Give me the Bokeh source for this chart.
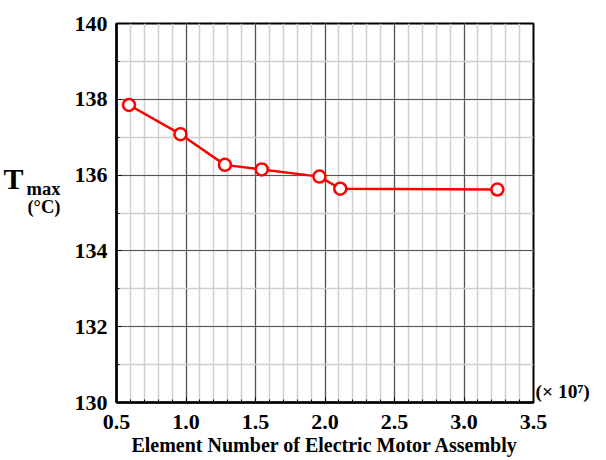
from bokeh.plotting import figure
from bokeh.models import (SingleIntervalTicker, PrintfTickFormatter, Range1d,
                          LinearAxis, FixedTicker)
from bokeh.embed import file_html
from bokeh.resources import INLINE

# Data (x in units of 10^7 elements, y = max temperature in °C)
element_number = [0.59, 0.96, 1.28, 1.545, 1.96, 2.11, 3.24]
t_max = [137.85, 137.08, 136.27, 136.15, 135.96, 135.64, 135.62]

x_min, x_max = 0.5, 3.5
y_min, y_max = 130, 140

x_label = "Element Number of Electric Motor Assembly"
y_label_main = "T"
y_label_sub = "max"
y_label_unit = "(°C)"
x_scale_note = "(× 10⁷)"

FONT = "Liberation Serif"

W, H = 606, 460

p = figure(width=W, height=H, output_backend="svg", toolbar_location=None,
           x_range=Range1d(x_min, x_max), y_range=Range1d(y_min, y_max),
           min_border_left=116, min_border_right=73, min_border_top=23,
           min_border_bottom=58)
p.background_fill_color = "white"
p.border_fill_color = "white"
p.outline_line_color = "black"
p.outline_line_width = 2
p.outline_line_alpha = 1

p.xaxis.ticker = SingleIntervalTicker(interval=0.5, num_minor_ticks=5)
p.yaxis.ticker = SingleIntervalTicker(interval=2, num_minor_ticks=2)
p.xaxis.formatter = PrintfTickFormatter(format="%.1f")
p.yaxis.formatter = PrintfTickFormatter(format="%d")

for ax in (p.xaxis[0], p.yaxis[0]):
    ax.axis_line_width = 2.5
    ax.axis_line_color = "black"
    ax.major_tick_in = 5
    ax.major_tick_out = 0
    ax.minor_tick_in = 3
    ax.minor_tick_out = 0
    ax.major_tick_line_color = "black"
    ax.minor_tick_line_color = "black"
    ax.major_label_text_font = FONT
    ax.major_label_text_font_style = "bold"
    ax.major_label_text_font_size = "22px"
    ax.major_label_text_color = "black"

p.yaxis.major_label_standoff = 9
p.xaxis.major_label_standoff = 12
p.xaxis.axis_label = x_label
p.xaxis.axis_label_text_font = FONT
p.xaxis.axis_label_text_font_style = "bold"
p.xaxis.axis_label_text_font_size = "20px"
p.xaxis.axis_label_text_color = "black"
p.xaxis.axis_label_standoff = 2

p.xgrid.grid_line_color = "#555555"
p.ygrid.grid_line_color = "#555555"
p.xgrid.grid_line_width = 1.2
p.ygrid.grid_line_width = 1.2
p.xgrid.minor_grid_line_color = "#cfcfcf"
p.ygrid.minor_grid_line_color = "#cfcfcf"
p.xgrid.minor_grid_line_width = 1.5
p.ygrid.minor_grid_line_width = 1.5

p.line(element_number, t_max, line_color="#ff0000", line_width=2.5)
p.scatter(element_number, t_max, marker="circle", size=12, fill_color="white",
          line_color="#ff0000", line_width=2.5)


def text_axis(side, positions, texts, size, standoff):
    ax = LinearAxis(ticker=FixedTicker(ticks=positions),
                    major_label_overrides=dict(zip(positions, texts)))
    ax.axis_line_alpha = 0
    ax.major_tick_in = 0
    ax.major_tick_out = 0
    ax.minor_tick_in = 0
    ax.minor_tick_out = 0
    ax.major_label_standoff = standoff
    ax.major_label_text_font = FONT
    ax.major_label_text_font_style = "bold"
    ax.major_label_text_font_size = size
    ax.major_label_text_color = "black"
    p.add_layout(ax, side)
    return ax


# y-axis title pieces (placed as label-only axes beside the main y axis)
text_axis("left", [135.625, 135.15], [y_label_sub, y_label_unit], "18.5px", 11)
text_axis("left", [135.91], [y_label_main], "30px", 0)
# multiplier note at the right end of the x axis
text_axis("right", [130.3], [x_scale_note], "19.5px", 2)

open("out.html", "w").write(file_html(p, INLINE))
